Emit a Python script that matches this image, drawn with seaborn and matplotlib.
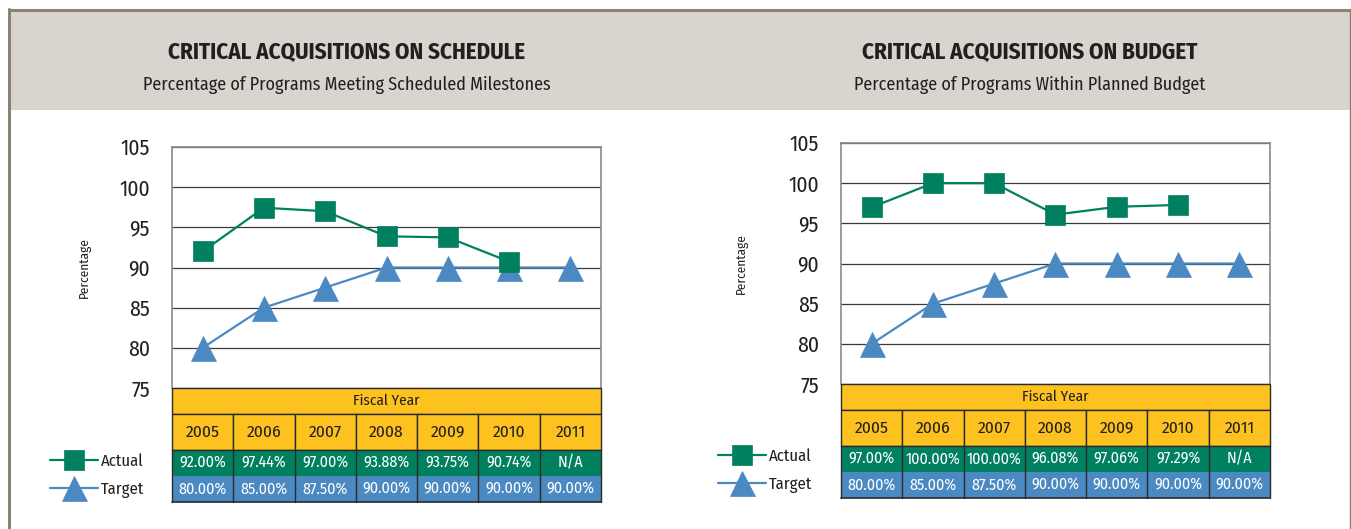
import matplotlib
matplotlib.use("Agg")
import matplotlib.pyplot as plt
from matplotlib.patches import Rectangle
from matplotlib.lines import Line2D
import seaborn as sns
import pandas as pd
import numpy as np

# ---- data ----
years = ["2005", "2006", "2007", "2008", "2009", "2010", "2011"]
schedule_actual = [92.00, 97.44, 97.00, 93.88, 93.75, 90.74, np.nan]
schedule_target = [80.00, 85.00, 87.50, 90.00, 90.00, 90.00, 90.00]
budget_actual = [97.00, 100.00, 100.00, 96.08, 97.06, 97.29, np.nan]
budget_target = [80.00, 85.00, 87.50, 90.00, 90.00, 90.00, 90.00]
y_ticks = [75, 80, 85, 90, 95, 100, 105]

# ---- style ----
sns.set_theme(style="white")
plt.rcParams["font.family"] = ["Fira Sans Condensed", "DejaVu Sans"]

GREEN = "#00805f"
BLUE = "#4a89c1"
GOLD = "#fdc21f"
HEADER = "#d8d4ce"
FRAME = "#8a8272"
INK = "#231f20"

W, H = 1351, 529
fig = plt.figure(figsize=(W / 100, H / 100), dpi=100)
fig.patch.set_facecolor("white")


def fx(x):
    return x / W


def fy(y):
    return 1 - y / H


# header band and outer frame
fig.add_artist(Rectangle((fx(10), fy(110)), fx(W - 10), (110 - 10) / H,
                         transform=fig.transFigure, facecolor=HEADER,
                         edgecolor="none", zorder=0))
fig.add_artist(Line2D([fx(9), fx(9)], [fy(H), fy(9)], transform=fig.transFigure,
                      color=FRAME, lw=2.2))
fig.add_artist(Line2D([fx(9), fx(1350)], [fy(9.5), fy(9.5)], transform=fig.transFigure,
                      color=FRAME, lw=2.2))
fig.add_artist(Line2D([fx(1349.5), fx(1349.5)], [fy(H), fy(9)], transform=fig.transFigure,
                      color=FRAME, lw=1.0))


def fmt(v):
    return "N/A" if np.isnan(v) else f"{v:.2f}%"


def panel(left, right, top, bottom, table_rows, title, subtitle, title_cx,
          actual, target, ylabel_x, legend_xy):
    ax = fig.add_axes([fx(left), fy(bottom), fx(right - left), (bottom - top) / H])
    df = pd.DataFrame({"pos": np.arange(len(years)), "Actual": actual, "Target": target})

    sns.lineplot(data=df, x="pos", y="Target", ax=ax, color=BLUE, lw=1.6,
                 marker="^", markersize=18, markeredgecolor=BLUE,
                 markeredgewidth=0.5, label="Target", zorder=3)
    sns.lineplot(data=df.dropna(), x="pos", y="Actual", ax=ax, color=GREEN, lw=1.6,
                 marker="s", markersize=14, markeredgecolor=GREEN,
                 markeredgewidth=0.5, label="Actual", zorder=4)

    ax.set_xlim(-0.5, len(years) - 0.5)
    ax.set_ylim(75, 105)
    ax.set_yticks(y_ticks)
    ax.set_xticks([])
    ax.set_xlabel("")
    ax.set_ylabel("")
    ax.yaxis.grid(True, color="#3a3a3a", lw=0.9)
    ax.set_axisbelow(True)
    for s in ("top", "left", "right"):
        ax.spines[s].set_color("#8a8a8a")
        ax.spines[s].set_linewidth(1.2)
    ax.spines["bottom"].set_visible(False)
    ax.tick_params(axis="y", length=0, pad=16, labelsize=15.5, labelcolor=INK)

    handles, labels = ax.get_legend_handles_labels()
    order = [labels.index("Actual"), labels.index("Target")]
    ax.legend([handles[i] for i in order], [labels[i] for i in order],
              loc="upper left", bbox_to_anchor=(fx(legend_xy[0]), fy(legend_xy[1])),
              bbox_transform=fig.transFigure, frameon=False, fontsize=12,
              handlelength=2.9, handletextpad=0.15, labelspacing=0.75,
              borderpad=0, borderaxespad=0, labelcolor=INK)

    fig.text(fx(ylabel_x), fy((top + bottom) / 2), "Percentage", rotation=90,
             ha="center", va="center", fontsize=9.5, color=INK)

    # data table under the plot
    t0, t1, t2, t3, t4 = table_rows
    tab = fig.add_axes([fx(left), fy(t4), fx(right - left), (t4 - t0) / H])
    tab.set_xlim(-0.5, len(years) - 0.5)
    tab.set_ylim(t4, t0)
    tab.axis("off")
    edge = "#2a2a2a"
    n = len(years)
    tab.add_patch(Rectangle((-0.5, t0), n, t1 - t0, facecolor=GOLD, edgecolor=edge,
                            lw=1.0, clip_on=False))
    tab.text((n - 1) / 2, (t0 + t1) / 2, "Fiscal Year", ha="center", va="center",
             fontsize=11, color=INK)
    for i, yr in enumerate(years):
        tab.add_patch(Rectangle((i - 0.5, t1), 1, t2 - t1, facecolor=GOLD,
                                edgecolor=edge, lw=1.0, clip_on=False))
        tab.text(i, (t1 + t2) / 2, yr, ha="center", va="center", fontsize=12.5, color=INK)
        tab.add_patch(Rectangle((i - 0.5, t2), 1, t3 - t2, facecolor=GREEN,
                                edgecolor="none", clip_on=False))
        tab.text(i, (t2 + t3) / 2, fmt(actual[i]), ha="center", va="center",
                 fontsize=11.5, color="white")
        tab.add_patch(Rectangle((i - 0.5, t3), 1, t4 - t3, facecolor=BLUE,
                                edgecolor="none", clip_on=False))
        tab.text(i, (t3 + t4) / 2, fmt(target[i]), ha="center", va="center",
                 fontsize=11.5, color="white")
    for i in range(n + 1):
        tab.plot([i - 0.5, i - 0.5], [t2, t4], color=edge, lw=1.0, clip_on=False)
    tab.plot([-0.5, n - 0.5], [t4, t4], color=edge, lw=1.2, clip_on=False)
    tab.plot([-0.5, n - 0.5], [t2, t2], color=edge, lw=1.0, clip_on=False)

    fig.text(fx(title_cx), fy(52), title, ha="center", va="center",
             fontsize=16.5, fontweight="bold", color=INK)
    fig.text(fx(title_cx), fy(85), subtitle, ha="center", va="center",
             fontsize=13, color=INK)


panel(172, 601, 147, 388, (388, 414, 450, 476, 502),
      "CRITICAL ACQUISITIONS ON SCHEDULE",
      "Percentage of Programs Meeting Scheduled Milestones", 347,
      schedule_actual, schedule_target, 85, (50, 453))

panel(841, 1270, 143, 384, (384, 410, 446, 472, 498),
      "CRITICAL ACQUISITIONS ON BUDGET",
      "Percentage of Programs Within Planned Budget", 1030,
      budget_actual, budget_target, 742, (718, 448))

fig.savefig("out.png", dpi=100)
